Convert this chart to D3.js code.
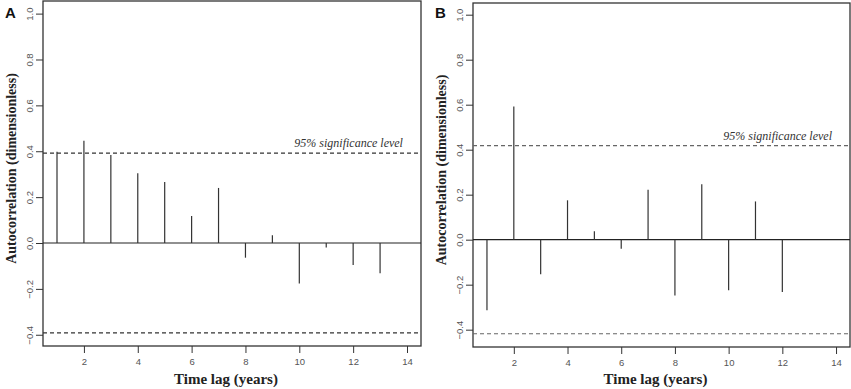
<!DOCTYPE html>
<html>
<head>
<meta charset="utf-8">
<script src="https://cdn.jsdelivr.net/npm/d3@7/dist/d3.min.js"></script>
<style>
  body { margin: 0; background: #fff; }
  svg { display: block; }
  .tick text { font-family: "Liberation Sans", Arial, sans-serif; font-size: 9.5px; fill: #555; }
  .tick line { stroke: #333; }
  .domain { stroke: none; }
  .title { font-family: "Liberation Serif", "Times New Roman", serif; font-weight: bold; fill: #222; }
  .sig { font-family: "Liberation Serif", "Times New Roman", serif; font-style: italic; font-size: 12px; fill: #333; }
  .panel-label { font-family: "Liberation Sans", Arial, sans-serif; font-weight: bold; font-size: 15px; fill: #111; }
</style>
</head>
<body>
<svg id="chart" width="851" height="389"></svg>
<script>
const lagsA = [1, 2, 3, 4, 5, 6, 7, 8, 9, 10, 11, 12, 13];
const acfA = [0.398, 0.446, 0.384, 0.304, 0.266, 0.118, 0.24, -0.064, 0.034, -0.176, -0.02, -0.096, -0.132];
const climA = 0.392;

const lagsB = [1, 2, 3, 4, 5, 6, 7, 8, 9, 10, 11, 12];
const acfB = [-0.314, 0.592, -0.154, 0.175, 0.038, -0.04, 0.222, -0.248, 0.246, -0.225, 0.17, -0.233];
const climB = 0.418;

const xTicks = [2, 4, 6, 8, 10, 12, 14];
const yTicks = [-0.4, -0.2, 0.0, 0.2, 0.4, 0.6, 0.8, 1.0];

const panels = [
  { label: "A", lags: lagsA, acf: acfA, clim: climA, left: 43, right: 421, top: 1, bottom: 346,
    yDomain: [-0.449, 1.055], dashColor: "#333" },
  { label: "B", lags: lagsB, acf: acfB, clim: climB, left: 473, right: 850, top: 3, bottom: 347,
    yDomain: [-0.477, 1.052], dashColor: "#666" },
];

const svg = d3.select("#chart");

panels.forEach((p) => {
  const x = d3.scaleLinear().domain([0.48, 14.52]).range([p.left, p.right]);
  const y = d3.scaleLinear().domain(p.yDomain).range([p.bottom, p.top]);
  const g = svg.append("g");

  // plot box
  g.append("rect")
    .attr("x", p.left).attr("y", p.top)
    .attr("width", p.right - p.left).attr("height", p.bottom - p.top)
    .attr("fill", "none").attr("stroke", "#333").attr("stroke-width", 1.3);

  // axes
  g.append("g")
    .attr("transform", `translate(0,${p.bottom})`)
    .call(d3.axisBottom(x).tickValues(xTicks).tickSize(7).tickPadding(5));

  const yAxis = g.append("g")
    .attr("transform", `translate(${p.left},0)`)
    .call(d3.axisLeft(y).tickValues(yTicks).tickSize(7).tickFormat(d3.format(".1f")));
  // R-style labels, parallel to the axis
  yAxis.selectAll(".tick text")
    .attr("transform", "rotate(-90)")
    .attr("x", 0).attr("y", -13)
    .attr("dy", "0.32em")
    .attr("text-anchor", "middle");

  // zero line
  g.append("line")
    .attr("x1", p.left).attr("x2", p.right)
    .attr("y1", y(0)).attr("y2", y(0))
    .attr("stroke", "#222").attr("stroke-width", 1.2);

  // significance lines
  [p.clim, -p.clim].forEach((c) => {
    g.append("line")
      .attr("x1", p.left).attr("x2", p.right)
      .attr("y1", y(c)).attr("y2", y(c))
      .attr("stroke", p.dashColor).attr("stroke-width", 1.1)
      .attr("stroke-dasharray", "4,3");
  });

  g.append("text").attr("class", "sig")
    .attr("x", x(13.85)).attr("y", y(p.clim) - 6)
    .attr("text-anchor", "end")
    .text("95% significance level");

  // spikes
  g.selectAll(".spike")
    .data(p.lags.map((l, i) => ({ lag: l, v: p.acf[i] })))
    .join("line")
    .attr("class", "spike")
    .attr("x1", (d) => x(d.lag)).attr("x2", (d) => x(d.lag))
    .attr("y1", y(0)).attr("y2", (d) => y(d.v))
    .attr("stroke", "#333").attr("stroke-width", 1.2);

  // titles
  g.append("text").attr("class", "title")
    .attr("x", (p.left + p.right) / 2 - 6).attr("y", 384)
    .attr("text-anchor", "middle").attr("font-size", 15)
    .text("Time lag (years)");

  g.append("text").attr("class", "title")
    .attr("transform", `translate(${p.left - 32},${(p.top + p.bottom) / 2 - 5}) rotate(-90)`)
    .attr("text-anchor", "middle").attr("dy", "0.35em").attr("font-size", 14)
    .text("Autocorrelation (dimensionless)");

  g.append("text").attr("class", "panel-label")
    .attr("x", p.left - 38).attr("y", 18)
    .text(p.label);
});
</script>
</body>
</html>
